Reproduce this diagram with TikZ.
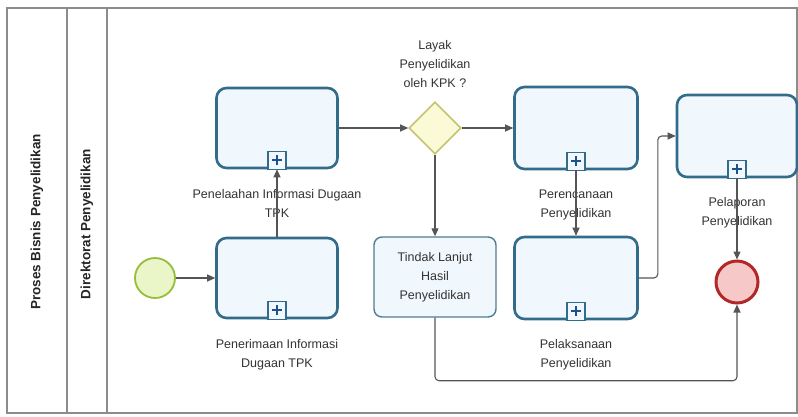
\documentclass[tikz,border=0pt]{standalone}
\usepackage{fontspec}
\setmainfont{Liberation Sans}
\usetikzlibrary{shapes.geometric,arrows.meta,calc}
\definecolor{taskline}{RGB}{50,108,138}
\definecolor{taskfill}{RGB}{240,247,253}
\definecolor{plainline}{RGB}{80,125,145}
\definecolor{startfill}{RGB}{234,245,200}
\definecolor{startline}{RGB}{150,190,60}
\definecolor{gwfill}{RGB}{250,250,214}
\definecolor{gwline}{RGB}{196,196,110}
\definecolor{endfill}{RGB}{246,200,200}
\definecolor{endline}{RGB}{176,40,40}
\definecolor{flowline}{RGB}{85,85,85}
\definecolor{poolline}{RGB}{140,140,140}
\definecolor{plusblue}{RGB}{30,80,140}
\tikzset{
  lbl/.style={font=\fontsize{12.5}{19}\selectfont, text=black!80, align=center, inner sep=0pt},
  subproc/.style={draw=taskline, line width=2.6pt, fill=taskfill, rounded corners=10pt, minimum width=121pt, minimum height=80pt, inner sep=0pt},
  plaintask/.style={draw=plainline, line width=1.4pt, fill=taskfill, rounded corners=8pt, minimum width=122pt, minimum height=80pt, inner sep=0pt, font=\fontsize{12.5}{19}\selectfont, text=black!80, align=center},
  startev/.style={circle, draw=startline, line width=1.8pt, fill=startfill, minimum size=40pt, inner sep=0pt},
  endev/.style={circle, draw=endline, line width=3pt, fill=endfill, minimum size=42pt, inner sep=0pt},
  gw/.style={diamond, draw=gwline, line width=1.6pt, fill=gwfill, minimum size=52pt, inner sep=0pt},
  flow/.style={draw=flowline, line width=1.1pt, -{Triangle[length=8pt,width=7pt]}, rounded corners=4pt},
  pool/.style={draw=poolline, line width=1.4pt},
  lanelbl/.style={font=\bfseries\fontsize{13.5}{16}\selectfont, text=black!85, rotate=90, inner sep=0pt}
}
\newcommand{\spmarker}[1]{%
  \draw[draw=taskline, line width=1.4pt, fill=taskfill] ($(#1.south)+(-9,0)$) rectangle ($(#1.south)+(9,-18)$);
  \draw[draw=plusblue, line width=2pt] ($(#1.south)+(-5,-9)$) -- ($(#1.south)+(5,-9)$);
  \draw[draw=plusblue, line width=2pt] ($(#1.south)+(0,-4)$) -- ($(#1.south)+(0,-14)$);
}
\begin{document}
\begin{tikzpicture}[x=1pt,y=-1pt]
\useasboundingbox (0,0) rectangle (798,416);
\fill[white] (0,0) rectangle (798,416);
% pool and lanes
\draw[pool] (7,8) rectangle (797,413);
\draw[pool] (67,8) -- (67,413);
\draw[pool] (107,8) -- (107,413);
\node[lanelbl] (poolname) at (37,222) {Proses Bisnis Penyelidikan};
\node[lanelbl] (lanename) at (87,224) {Direktorat Penyelidikan};
% nodes
\node[startev] (start) at (155,278) {};
\node[subproc] (B) at (277,278) {};
\node[subproc] (A) at (277,128) {};
\node[gw] (G) at (435,128) {};
\node[subproc, minimum width=123pt, minimum height=82pt] (C) at (576,128) {};
\node[subproc, minimum width=120pt, minimum height=82pt] (D) at (737,136) {};
\node[subproc, minimum width=123pt, minimum height=82pt] (E) at (576,278) {};
\node[plaintask] (F) at (435,277) {Tindak Lanjut\\Hasil\\Penyelidikan};
\node[endev] (end) at (737,282) {};
% markers
\spmarker{A}
\spmarker{B}
\spmarker{C}
\spmarker{D}
\spmarker{E}
% labels
\node[lbl] (Alab) at (277,203) {Penelaahan Informasi Dugaan\\TPK};
\node[lbl] (Blab) at (277,355) {Penerimaan Informasi\\Dugaan TPK};
\node[lbl] (Clab) at (576,205) {Perencanaan\\Penyelidikan};
\node[lbl] (Dlab) at (737,213) {Pelaporan\\Penyelidikan};
\node[lbl] (Elab) at (576,355) {Pelaksanaan\\Penyelidikan};
\node[lbl] (Glab) at (435,64) {Layak\\Penyelidikan\\oleh KPK ?};
% flows
\draw[flow] (start) -- (B.west);
\draw[flow] (B.north) -- (A.south);
\draw[flow] (A.east) -- (G.west);
\draw[flow] (G.east) -- (C.west);
\draw[flow] (G.south) -- (F.north);
\draw[flow] (C.south) -- (E.north);
\draw[flow] (E.east) -- ++(19,0) |- (D.west);
\draw[flow] (D.south) -- (end.north);
\draw[flow] (F.south) -- ++(0,63) -| (end.south);
\end{tikzpicture}
\end{document}
